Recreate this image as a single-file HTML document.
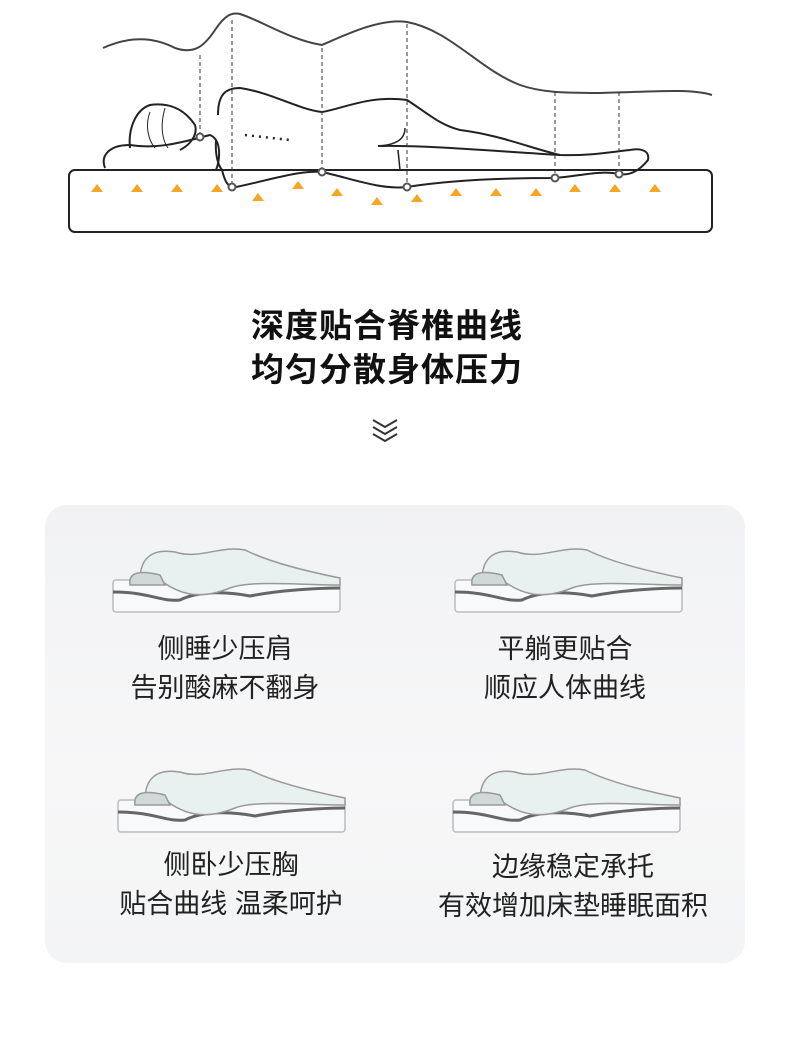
<!DOCTYPE html>
<html><head><meta charset="utf-8"><style>
body{margin:0;width:790px;height:1043px;background:#fff;position:relative;overflow:hidden;font-family:"Liberation Sans","Noto Sans CJK SC",sans-serif;}
.t{position:absolute;left:-8px;width:790px;text-align:center;font-weight:700;font-size:33px;color:#111;letter-spacing:1px}
.card{position:absolute;left:45px;top:505px;width:700px;height:458px;border-radius:22px;background:linear-gradient(180deg,#f1f2f4,#f7f7f8 60%,#f3f4f5);}
.lab{position:absolute;text-align:center;color:#222;font-size:27px;width:400px}
</style></head><body>
<svg width="790" height="260" style="position:absolute;left:0;top:0" fill="none" stroke="#222" stroke-width="2">
<rect x="69" y="170" width="643" height="62" rx="6"/>
<path d="M103 48 C125 38 150 35 175 48 C195 55 205 45 215 30 C225 15 232 12 240 14 C260 20 290 40 322 45 C345 35 380 18 407 22 C450 30 480 70 520 85 C540 92 560 93 600 93 C650 92 690 88 712 95" stroke="#444"/>
<path d="M218 115 C218 95 225 88 240 88 C270 92 300 110 322 112 C345 108 370 95 407 100 C430 115 440 125 460 130 C500 135 530 148 560 155 C590 156 610 152 630 150"/>
<path d="M222 170 C225 182 228 188 236 187 C270 180 300 170 322 172 C350 178 380 190 407 187 C450 180 500 178 555 178 C580 176 600 170 619 174 C630 176 640 170 648 160 C650 150 640 148 630 150"/>
<path d="M216 140 C215 155 218 165 222 170"/>
<path d="M105 168 C100 155 110 145 130 145 C160 150 190 140 210 135 C222 140 220 160 216 170"/>
<path d="M130 148 C128 130 135 110 150 105 C170 102 185 110 195 125 C198 135 190 145 180 150" />
<path d="M150 112 C145 125 148 140 155 148 M165 108 C160 125 162 140 168 148" stroke-width="1"/>
<path d="M378 146 C420 145 480 150 560 155" />
<path d="M405 128 C405 140 395 145 378 146 M398 150 L400 170" stroke-width="1.5"/>
<path d="M245 135 L290 140" stroke-dasharray="2 5" stroke-width="2.5"/>
<g stroke-width="1" stroke-dasharray="4 3" stroke="#333">
<path d="M200 55 V137 M232 20 V187 M322 48 V172 M407 24 V187 M555 92 V178 M619 92 V174"/></g>
<g stroke="#555" stroke-width="2" fill="#fff">
<circle cx="200" cy="137" r="3.5"/><circle cx="232" cy="187" r="3.5"/><circle cx="322" cy="172" r="3.5"/><circle cx="407" cy="187" r="3.5"/><circle cx="555" cy="178" r="3.5"/><circle cx="619" cy="174" r="3.5"/></g>
<g fill="#f5a623" stroke="none">
<path d="M91 192 l6 -8 l6 8 z M131 192 l6 -8 l6 8 z M171 192 l6 -8 l6 8 z M211 192 l6 -8 l6 8 z M252 201 l6 -8 l6 8 z M292 189 l6 -8 l6 8 z M331 196 l6 -8 l6 8 z M371 205 l6 -8 l6 8 z M411 202 l6 -8 l6 8 z M450 196 l6 -8 l6 8 z M490 196 l6 -8 l6 8 z M530 196 l6 -8 l6 8 z M569 192 l6 -8 l6 8 z M609 192 l6 -8 l6 8 z M649 192 l6 -8 l6 8 z"/></g>
</svg>
<div class="t" style="top:299px">深度贴合脊椎曲线</div>
<div class="t" style="top:343px">均匀分散身体压力</div>
<svg width="30" height="30" style="position:absolute;left:370px;top:415px" fill="none" stroke="#333" stroke-width="2"><path d="M3 5 l12 7 l12 -7 M3 12 l12 7 l12 -7 M3 19 l12 7 l12 -7"/></svg>
<div class="card"></div>
<svg width="790" height="1043" style="position:absolute;left:0;top:0" fill="none" stroke="#888" stroke-width="1.5">
<g id="m1">
<rect x="113" y="580" width="227" height="32" rx="3" stroke="#bbb" fill="#f8f9fa"/>
<path d="M113 592 C150 592 160 602 180 600 C200 590 230 592 250 596 C280 590 320 588 340 588" stroke="#666" stroke-width="3"/>
<path d="M140 580 C140 560 150 548 175 552 C200 560 220 545 245 550 C265 560 300 570 340 578 L340 585 C300 585 250 580 230 588 C200 600 180 595 160 580 Z" fill="#e9f0f0" stroke="#999"/>
<path d="M130 585 C128 572 140 570 160 575 L165 585 Z" fill="#cfd9d8" stroke="#999"/>
</g>
<use href="#m1" transform="translate(342,0)"/>
<use href="#m1" transform="translate(5,220)"/>
<use href="#m1" transform="translate(340,220)"/>
</svg>
<div class="lab" style="left:25px;top:627px">侧睡少压肩</div>
<div class="lab" style="left:25px;top:666px">告别酸麻不翻身</div>
<div class="lab" style="left:365px;top:627px">平躺更贴合</div>
<div class="lab" style="left:365px;top:666px">顺应人体曲线</div>
<div class="lab" style="left:31px;top:843px">侧卧少压胸</div>
<div class="lab" style="left:31px;top:882px">贴合曲线 温柔呵护</div>
<div class="lab" style="left:373px;top:845px">边缘稳定承托</div>
<div class="lab" style="left:373px;top:884px">有效增加床垫睡眠面积</div>
</body></html>
